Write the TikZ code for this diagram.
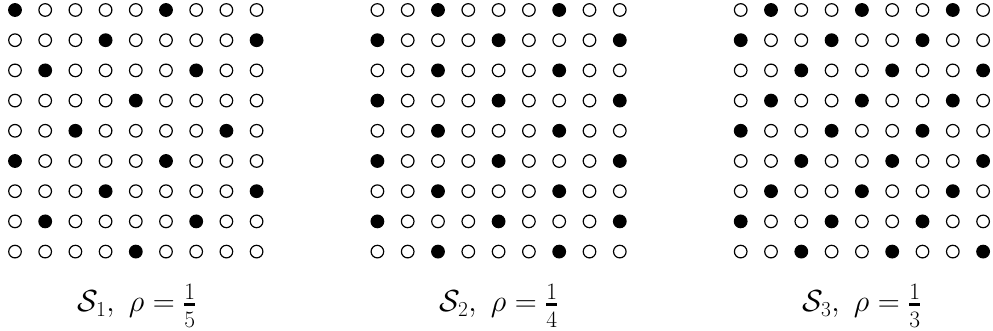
\RequirePackage{fix-cm}
\documentclass[tikz,border=0pt]{standalone}
\newcommand{\myfr}[2]{\genfrac{}{}{2.6pt}{1}{\hbox{\fontsize{23.5}{24}\selectfont #1}}{\hbox{\fontsize{23.5}{24}\selectfont\rule{0pt}{19pt}#2}}}
\usepackage{amsmath}
\begin{document}
\begin{tikzpicture}[x=1pt,y=1pt]
\tikzset{
  dotstyle/.style={draw=black, line width=1.2pt},
  lbl/.style={anchor=base, inner sep=0pt, font=\fontsize{30.5}{36}\selectfont}
}
\useasboundingbox (0,0) rectangle (993,331);
% grid 1: rho = 1/5
\foreach \r in {0,...,8} \foreach \c in {0,...,8} {
  \pgfmathtruncatemacro\fa{mod(\c+2*\r,5)==0 ? 1 : 0}
  \ifnum\fa=1 \def\col{black}\else\def\col{white}\fi
  \draw[dotstyle, fill=\col] (15+30.2*\c, 321-30.2*\r) circle[radius=6.3];
}
% grid 2: rho = 1/4
\foreach \r in {0,...,8} \foreach \c in {0,...,8} {
  \pgfmathtruncatemacro\fb{mod(\c+2*\r,4)==2 ? 1 : 0}
  \ifnum\fb=1 \def\col{black}\else\def\col{white}\fi
  \draw[dotstyle, fill=\col] (377.4+30.3*\c, 321-30.2*\r) circle[radius=6.3];
}
% grid 3: rho = 1/3
\foreach \r in {0,...,8} \foreach \c in {0,...,8} {
  \pgfmathtruncatemacro\fc{mod(\c+\r,3)==1 ? 1 : 0}
  \ifnum\fc=1 \def\col{black}\else\def\col{white}\fi
  \draw[dotstyle, fill=\col] (740.7+30.3*\c, 321-30.2*\r) circle[radius=6.3];
}
\node[lbl] (l1) at (137,19) {$\mathcal{S}_1,\ \rho=\myfr{1}{5}$};
\node[lbl] (l2) at (499,19) {$\mathcal{S}_2,\ \rho=\myfr{1}{4}$};
\node[lbl] (l3) at (862,19) {$\mathcal{S}_3,\ \rho=\myfr{1}{3}$};
\end{tikzpicture}
\end{document}
